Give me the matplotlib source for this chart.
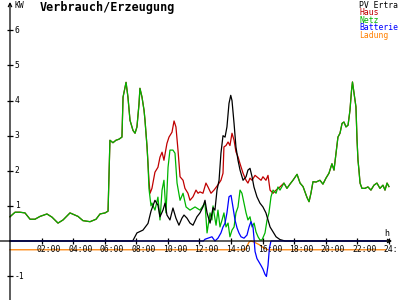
#!/usr/bin/env python3

# plot.py - Verbrauch/Erzeugung Tageskurve

import matplotlib
matplotlib.use('Agg')
import matplotlib.pyplot as plt

plt.rcParams['font.family'] = ['DejaVu Sans Mono']

# Haus (Verbrauch), kW
haus_t = [0.0, 0.32, 0.63, 0.95, 1.27, 1.58, 1.90, 2.34, 2.66, 3.04, 3.36, 3.80, 4.31,
          4.62, 5.07, 5.45, 5.70, 6.02, 6.21, 6.33, 6.52, 6.71, 6.90, 7.09, 7.16, 7.35,
          7.47, 7.60, 7.79, 7.92, 8.04, 8.17, 8.23, 8.36, 8.49, 8.55, 8.68, 8.74, 8.80,
          8.87, 8.99, 9.18, 9.37, 9.50, 9.63, 9.75, 9.94, 10.07, 10.26, 10.39, 10.51,
          10.64, 10.77, 10.96, 11.08, 11.27, 11.40, 11.59, 11.78, 11.91, 12.03, 12.22,
          12.41, 12.54, 12.73, 12.92, 13.17, 13.36, 13.49, 13.55, 13.68, 13.81, 13.93,
          14.06, 14.19, 14.31, 14.44, 14.57, 14.76, 14.95, 15.07, 15.20, 15.33, 15.52,
          15.71, 15.90, 16.02, 16.21, 16.34, 16.47, 16.66, 16.85, 17.10, 17.35, 17.54,
          17.73, 17.92, 18.18, 18.37, 18.56, 18.81, 18.94, 19.06, 19.19, 19.38, 19.63,
          19.82, 20.01, 20.20, 20.39, 20.52, 20.65, 20.77, 20.90, 21.03, 21.15, 21.28,
          21.41, 21.53, 21.63, 21.69, 21.79, 21.91, 21.98, 22.04, 22.10, 22.17, 22.29,
          22.48, 22.67, 22.86, 23.05, 23.24, 23.43, 23.62, 23.75, 23.88, 24.0]
haus = [0.69, 0.82, 0.82, 0.80, 0.62, 0.62, 0.70, 0.77, 0.68, 0.51, 0.60, 0.80, 0.70,
        0.58, 0.55, 0.62, 0.77, 0.80, 0.85, 2.87, 2.80, 2.87, 2.90, 2.96, 4.10, 4.52,
        4.10, 3.44, 3.15, 3.07, 3.25, 3.90, 4.35, 4.10, 3.72, 3.44, 2.68, 2.20, 1.73,
        1.36, 1.50, 1.96, 2.10, 2.39, 2.53, 2.30, 2.78, 2.96, 3.10, 3.42, 3.25,
        2.59, 1.83, 1.73, 1.50, 1.36, 1.16, 1.26, 1.45, 1.36, 1.40, 1.36,
        1.65, 1.54, 1.36, 1.45, 1.60, 1.73, 1.93, 2.68, 2.72, 2.82, 2.72,
        3.07, 2.87, 2.54, 2.40, 2.20, 1.93, 1.73, 1.65, 1.79, 1.73, 1.87,
        1.80, 1.73, 1.83, 1.73, 1.87, 1.45, 1.36, 1.45, 1.54, 1.65, 1.50,
        1.62, 1.73, 1.90, 1.65, 1.55, 1.24, 1.12, 1.36, 1.69, 1.68, 1.73,
        1.62, 1.79, 1.93, 2.20, 2.02, 2.50, 2.96, 3.07, 3.35, 3.39, 3.25,
        3.30, 3.72, 4.29, 4.53, 4.20, 3.82, 2.87, 2.30, 2.02, 1.65, 1.50,
        1.50, 1.54, 1.45, 1.59, 1.65, 1.50, 1.59, 1.45, 1.65, 1.55]

# Netz, kW (nur dort wo es vom Haus abweicht)
netz_t = [8.80, 8.93, 8.99, 9.18, 9.37, 9.50, 9.63, 9.75, 9.88, 10.01, 10.13, 10.32,
          10.45, 10.58, 10.77, 10.96, 11.15, 11.40, 11.72, 12.03, 12.35, 12.48, 12.67,
          12.79, 12.86, 12.92, 13.05, 13.17, 13.30, 13.43, 13.55, 13.68, 13.81, 13.93,
          14.06, 14.19, 14.31, 14.44, 14.57, 14.69, 14.82, 14.95, 15.07, 15.20, 15.33,
          15.46, 15.58, 15.71, 15.83, 15.96, 16.15, 16.28, 16.40, 16.53, 16.66, 16.85,
          16.97, 17.10]
netz_mid = [1.50, 1.00, 1.08, 0.88, 1.25, 0.60, 1.45, 1.73, 0.80, 2.10, 2.59, 2.59,
            2.50, 1.65, 1.16, 1.36, 0.97, 0.88, 0.97, 0.88, 1.08, 0.23, 0.80,
            0.60, 1.00, 0.80, 0.45, 0.88, 0.40, 0.60, 0.80, 0.40, 0.51, 0.12,
            0.31, 0.40, 0.80, 0.97, 1.45, 1.36, 1.08, 0.80, 0.60, 0.69, 0.40,
            0.51, 0.26, 0.12, 0.03, 0.03, 0.23, 0.60, 0.80, 1.26, 1.45, 1.36,
            1.54, 1.45]

# PV Ertrag, kW
pv_t = [0.0, 7.77, 8.04, 8.42, 8.74, 8.93, 9.18, 9.37, 9.50, 9.69, 9.82, 9.94, 10.13,
        10.32, 10.51, 10.70, 10.89, 11.02, 11.21, 11.40, 11.59, 11.84, 12.03, 12.22,
        12.35, 12.48, 12.67, 12.86, 12.98, 13.11, 13.24, 13.36, 13.49, 13.62, 13.74,
        13.87, 13.98, 14.06, 14.19, 14.31, 14.44, 14.57, 14.76, 14.95, 15.07, 15.20,
        15.33, 15.45, 15.64, 15.83, 16.02, 16.21, 16.34, 16.47, 16.66, 16.85, 17.10,
        17.42, 24.0]
pv = [0.0, 0.0, 0.23, 0.31, 0.50, 0.85, 1.16, 1.02, 0.69, 0.88, 1.08, 0.74, 0.60,
      0.94, 0.65, 0.45, 0.65, 0.74, 0.65, 0.51, 0.45, 0.69, 0.80, 0.97,
      1.16, 0.80, 0.51, 0.95, 0.88, 1.45, 1.73, 2.50, 3.00, 2.96, 3.25,
      3.92, 4.15, 4.00, 3.35, 2.68, 2.30, 2.02, 1.73, 1.83, 2.02, 2.07,
      1.83, 1.54, 1.26, 1.08, 0.97, 0.80, 0.60, 0.40, 0.26, 0.12, 0.04,
      0.0, 0.0]

# Batterie, kW (+ laden / - entladen)
batt_t = [0.0, 12.25, 12.35, 12.79, 12.98, 13.17, 13.36, 13.49, 13.62, 13.74, 13.87,
          14.00, 14.12, 14.25, 14.38, 14.50, 14.63, 14.82, 15.01, 15.14, 15.26, 15.39,
          15.45, 15.52, 15.64, 15.77, 15.90, 16.02, 16.15, 16.24, 16.34, 16.43, 16.53,
          23.8]
batt = [0.0, 0.0, 0.05, 0.12, 0.0, 0.08, 0.23, 0.40, 0.51, 0.80, 1.26,
        1.30, 0.97, 0.60, 0.37, 0.23, 0.12, 0.08, 0.17, 0.40, 0.55, 0.40,
        0.10, -0.30, -0.50, -0.60, -0.70, -0.80, -0.95, -1.01, -0.70, -0.20, 0.0,
        0.0]

# Ladung (Skala unter der Nulllinie)
lad_t = [0.0, 14.90, 15.01, 15.14, 15.26, 15.45, 15.77, 16.08, 16.34, 23.8]
lad = [-0.25, -0.25, -0.15, -0.03, 0.0, -0.03, -0.10, -0.20, -0.25, -0.25]

x_ticks = [2, 4, 6, 8, 10, 12, 14, 16, 18, 20, 22, 24]
# letzte Beschriftung ist im Original am Rand abgeschnitten
x_labels = ['02:00', '04:00', '06:00', '08:00', '10:00', '12:00', '14:00',
            '16:00', '18:00', '20:00', '22:00', '24:']
y_ticks = [-1, 1, 2, 3, 4, 5, 6]

legend_names = ['PV Ertra', 'Haus', 'Netz', 'Batterie', 'Ladung']
legend_colors = ['black', '#c00000', '#00b400', '#0000ff', '#ff8000']


def netz_series():
    # Netz folgt dem Hausverbrauch ausserhalb der PV-Zeit
    t = [x for x in haus_t if x < netz_t[0]] + netz_t + [x for x in haus_t if x > netz_t[-1]]
    v = [y for x, y in zip(haus_t, haus) if x < netz_t[0]] + netz_mid + \
        [y for x, y in zip(haus_t, haus) if x > netz_t[-1]]
    return t, v


def main():
    fig = plt.figure(figsize=(4, 3), dpi=100)
    ax = fig.add_axes([0, 0, 1, 1])
    ax.set_xlim(-0.633, 24.70)
    ax.set_ylim(-1.681, 6.866)
    ax.axis('off')

    lw = 0.9
    # Achsen
    ax.annotate('', xy=(0, 6.81), xytext=(0, -1.7),
                arrowprops=dict(arrowstyle='->', lw=lw, color='black',
                                shrinkA=0, shrinkB=0, mutation_scale=6))
    ax.annotate('', xy=(24.2, 0), xytext=(-0.65, 0),
                arrowprops=dict(arrowstyle='->', lw=lw, color='black',
                                shrinkA=0, shrinkB=0, mutation_scale=6))
    ax.plot(x_ticks, [0] * len(x_ticks), ls='none', marker='|', ms=4.5,
            mew=lw, color='black')
    ax.plot([0] * len(y_ticks), y_ticks, ls='none', marker='_', ms=4.5,
            mew=lw, color='black')

    nt, nv = netz_series()
    ax.plot(lad_t, lad, color=legend_colors[4], lw=lw)
    ax.plot(haus_t, haus, color=legend_colors[1], lw=lw)
    ax.plot(nt, nv, color=legend_colors[2], lw=lw)
    ax.plot(pv_t, pv, color=legend_colors[0], lw=lw)
    ax.plot(batt_t, batt, color=legend_colors[3], lw=lw)

    for t, lab in zip(x_ticks, x_labels):
        ax.text(t - 0.32, -0.1, lab, fontsize=5.8, ha='left', va='top')
    for v in y_ticks:
        ax.text(0.3, v, str(v), fontsize=5.8, ha='left', va='center')

    fig.text(14 / 400, 1 - 6 / 300, 'KW', fontsize=5.8, ha='left', va='center')
    fig.text(384 / 400, 1 - 233 / 300, 'h', fontsize=6, ha='left', va='center')
    fig.text(40 / 400, 1 - 8 / 300, 'Verbrauch/Erzeugung', fontsize=8.5,
             fontweight='bold', ha='left', va='center')
    for i, (name, col) in enumerate(zip(legend_names, legend_colors)):
        fig.text(359 / 400, 1 - (5 + 7.6 * i) / 300, name, fontsize=5.9,
                 color=col, ha='left', va='center')

    fig.savefig('out.png', dpi=100)


if __name__ == "__main__":
    main()
